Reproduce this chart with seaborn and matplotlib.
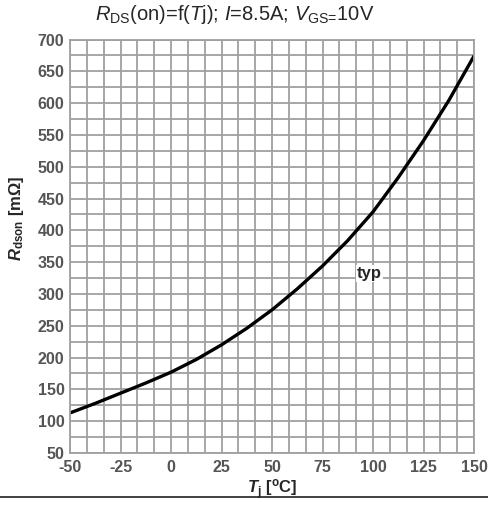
import numpy as np
import seaborn as sns
import matplotlib.pyplot as plt
from matplotlib.ticker import MultipleLocator
from matplotlib.lines import Line2D

# values
tj = [-50, -37.5, -25, -12.5, 0, 12.5, 25, 37.5, 50, 62.5, 75, 87.5, 100, 112.5, 125, 137.5, 150]
rdson = [113, 128, 144, 160, 177, 197, 220, 246, 275, 308, 344, 384, 429, 483, 541, 604, 674]

sns.set_style("white")
plt.rcParams["font.family"] = ["Liberation Sans", "DejaVu Sans"]
plt.rcParams["axes.unicode_minus"] = False
plt.rcParams["mathtext.fontset"] = "custom"
plt.rcParams["mathtext.rm"] = "Liberation Sans"
plt.rcParams["mathtext.it"] = "Liberation Sans:italic"
plt.rcParams["mathtext.bf"] = "Liberation Sans:bold"
plt.rcParams["mathtext.bfit"] = "Liberation Sans:bold:italic"

fig = plt.figure(figsize=(4.89, 5.05), dpi=100)
ax = fig.add_axes([70 / 489, 1 - 453 / 505, 404 / 489, 413.5 / 505])

sns.lineplot(x=tj, y=rdson, color="black", linewidth=2.4, ax=ax)

ax.set_xlim(-50, 150)
ax.set_ylim(50, 700)
ax.xaxis.set_major_locator(MultipleLocator(25))
ax.xaxis.set_minor_locator(MultipleLocator(25 / 3))
ax.yaxis.set_major_locator(MultipleLocator(50))
ax.yaxis.set_minor_locator(MultipleLocator(25))
ax.grid(which="both", color="#a0a0a0", linewidth=1.3)
ax.set_axisbelow(True)
for s in ax.spines.values():
    s.set_color("#a0a0a0")
    s.set_linewidth(1.3)

ax.tick_params(which="both", length=0)
ax.tick_params(axis="x", pad=5, labelsize=11.5, labelcolor="#555555")
ax.tick_params(axis="y", pad=4, labelsize=11.5, labelcolor="#555555")
for lab in ax.get_xticklabels() + ax.get_yticklabels():
    lab.set_fontweight("bold")

ax.set_ylabel(r"$\mathbfit{R}_{\mathbf{dson}}$ [m$\mathbf{\Omega}$]", fontsize=12, fontweight="bold")
ax.yaxis.set_label_coords(-0.11, 0.568)
ax.set_xlabel(r"$\mathbfit{T}_{\mathbf{j}}$ [$\mathbf{^o}$C]", fontsize=12, fontweight="bold")
ax.xaxis.set_label_coords(0.5, -0.058)

ax.text(92, 332, "typ", fontsize=12, fontweight="bold", va="center", ha="left",
        bbox=dict(facecolor="white", edgecolor="none", pad=1))

fig.text(234.5 / 489, 1 - 15 / 505,
         r"$R_{\mathrm{DS}}$(on)=f($T$j); $I$=8.5A; $V_{\text{GS=}}$10V",
         fontsize=14.5, ha="center", va="center")

fig.add_artist(Line2D([0, 1], [1 - 497 / 505, 1 - 497 / 505], color="#222222", linewidth=1.2,
                      transform=fig.transFigure))

fig.savefig("out.png", dpi=100)
